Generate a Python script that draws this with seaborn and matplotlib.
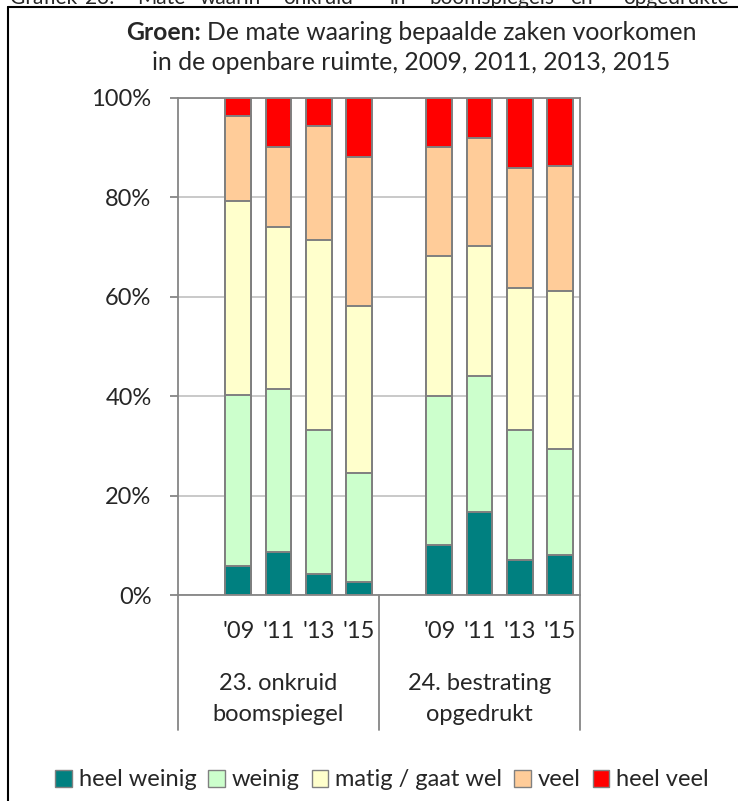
import numpy as np
import pandas as pd
import matplotlib
matplotlib.use('Agg')
import matplotlib.pyplot as plt
import seaborn as sns
from matplotlib.patches import Patch
from matplotlib.lines import Line2D
import matplotlib.transforms as mtransforms

# data (percent of respondents)
years = ["'09", "'11", "'13", "'15"]
groups = ['23. onkruid\nboomspiegel', '24. bestrating\nopgedrukt']
categories = ['heel weinig', 'weinig', 'matig / gaat wel', 'veel', 'heel veel']

heel_weinig = [5.8, 8.7, 4.2, 2.6, 10.1, 16.6, 7.0, 8.1]
weinig = [34.4, 32.7, 28.9, 21.9, 29.8, 27.4, 26.1, 21.3]
matig = [39.0, 32.6, 38.2, 33.7, 28.2, 26.2, 28.6, 31.8]
veel = [17.2, 16.1, 22.9, 30.0, 21.9, 21.7, 24.2, 25.1]
heel_veel = [3.6, 9.9, 5.7, 11.9, 9.9, 8.1, 14.1, 13.7]

colors = ['#008080', '#CCFFCC', '#FFFFCC', '#FFCC99', '#FF0000']
top_words = ['Grafiek', '23:', 'Mate', 'waarin', 'onkruid', 'in', 'boomspiegels', 'en', 'opgedrukte']
top_word_x = [10, 85, 137, 200, 283, 390, 430, 570, 623]

sns.set_theme(style='white')
plt.rcParams['font.family'] = ['Lato', 'DejaVu Sans']
FS = 17
TFS = 17.8

W, H = 738, 801
fig = plt.figure(figsize=(W / 100, H / 100), dpi=100)

# slot keys: an empty slot in front of each group of four years
order = []
rows = []
for g in range(len(groups)):
    order.append(f'g{g}_blank')
    for y in range(len(years)):
        order.append(f'g{g}_{y}')
vals = np.array([heel_weinig, weinig, matig, veel, heel_veel])
vals = vals / vals.sum(axis=0) * 100
cum = np.cumsum(vals, axis=0)
for g in range(len(groups)):
    for y in range(len(years)):
        i = g * len(years) + y
        for c, cat in enumerate(categories):
            rows.append({'key': f'g{g}_{y}', 'cat': cat, 'cum': cum[c, i]})
df = pd.DataFrame(rows)

left, right, top, bottom = 178, 580, 97.7, 595
ax = fig.add_axes([left / W, 1 - bottom / H, (right - left) / W, (bottom - top) / H])

# stacked bars: draw cumulative totals from the top category down
for c in reversed(range(len(categories))):
    sub = df[df['cat'] == categories[c]]
    sns.barplot(data=sub, x='key', y='cum', order=order, color=colors[c],
                saturation=1, width=0.64, edgecolor='#7F7F7F', linewidth=1.4, ax=ax)

ax.set_ylim(0, 100)
ax.set_xlim(-0.5, len(order) - 0.5)
ax.set_yticks([0, 20, 40, 60, 80, 100])
ax.set_yticklabels([f'{v}%' for v in [0, 20, 40, 60, 80, 100]], fontsize=FS)
ax.yaxis.grid(True, color='#C0C0C0', linewidth=1.2)
ax.set_axisbelow(True)
ax.set_xlabel('')
ax.set_ylabel('')
for s in ax.spines.values():
    s.set_color('#868686')
    s.set_linewidth(1.3)
ax.tick_params(axis='y', left=True, length=6, width=1.3, color='#868686', pad=13)

xt = [i for i, k in enumerate(order) if not k.endswith('blank')]
ax.set_xticks(xt)
ax.set_xticklabels(years * len(groups), fontsize=FS)
ax.tick_params(axis='x', bottom=False, length=0, pad=19)

# group labels and separators under the axis
trans = mtransforms.blended_transform_factory(ax.transData, ax.transAxes)
drop = (730 - bottom) / (bottom - top)
for sep in [-0.5, 4.5, 9.5]:
    ax.add_line(Line2D([sep, sep], [0, -drop], transform=trans, color='#868686',
                       linewidth=1.3, clip_on=False))
for g, label in enumerate(groups):
    ax.text(g * 5 + 2, -(699 - bottom) / (bottom - top), label, transform=trans,
            ha='center', va='center', fontsize=FS, linespacing=1.55)

# title: bold lead-in followed by normal text, centred as one line
renderer = fig.canvas.get_renderer()
t1 = fig.text(0, 1 - 33 / H, 'Groen:', fontsize=TFS, fontweight='bold', ha='left', va='center')
t2 = fig.text(0, 1 - 33 / H, 'De mate waaring bepaalde zaken voorkomen', fontsize=TFS,
              ha='left', va='center')
w1 = t1.get_window_extent(renderer).width
w2 = t2.get_window_extent(renderer).width
gap = 6
x0 = 411.5 - (w1 + gap + w2) / 2
t1.set_x(x0 / W)
t2.set_x((x0 + w1 + gap) / W)
fig.text(411.5 / W, 1 - 62 / H, 'in de openbare ruimte, 2009, 2011, 2013, 2015', fontsize=TFS,
         ha='center', va='center')

# cut-off caption above the frame
for word, x in zip(top_words, top_word_x):
    fig.text(x / W, 1 - 4 / H, word, fontsize=15, ha='left', va='baseline')

# outer frame
fig.add_artist(Line2D([8 / W, 8 / W], [0, 1 - 7 / H], transform=fig.transFigure, color='black', linewidth=1.5))
fig.add_artist(Line2D([8 / W, 1], [1 - 7 / H, 1 - 7 / H], transform=fig.transFigure, color='black', linewidth=1.5))

handles = [Patch(facecolor=col, edgecolor='#808080', linewidth=1.0) for col in colors]
fig.legend(handles, categories, loc='center', bbox_to_anchor=(382 / W, 1 - 780 / H), ncol=5,
           frameon=False, fontsize=FS, handlelength=0.7, handleheight=0.7,
           handletextpad=0.3, columnspacing=0.5, borderpad=0)

fig.savefig('out.png', dpi=100)
